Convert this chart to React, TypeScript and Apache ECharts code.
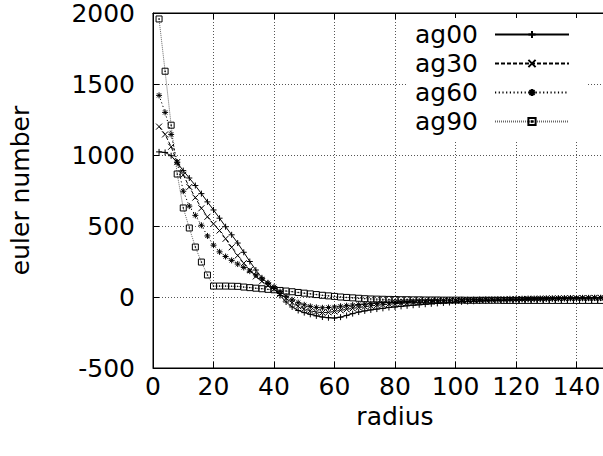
import React, { useEffect, useRef } from "react";
import * as echarts from "echarts";

const radius = [
  2, 4, 6, 8, 10, 12, 14, 16, 18, 20, 22, 24, 26, 28, 30, 32, 34, 36, 38, 40,
  42, 44, 46, 48, 50, 52, 54, 56, 58, 60, 62, 64, 66, 68, 70, 72, 74, 76, 78, 80,
  82, 84, 86, 88, 90, 92, 94, 96, 98, 100, 102, 104, 106, 108, 110, 112, 114, 116, 118, 120,
  122, 124, 126, 128, 130, 132, 134, 136, 138, 140, 142, 144, 146, 148, 150,
];

const ag00 = [
  1022, 1018, 995, 945, 890, 838, 785, 728, 670, 613, 555, 495, 438, 380, 315, 250, 190, 135, 95, 60,
  10, -35, -70, -95, -110, -122, -133, -141, -146, -148, -142, -130, -117, -106, -98, -91, -85, -80, -74, -70,
  -66, -62, -58, -55, -51, -48, -45, -42, -39, -36, -34, -32, -30, -28, -26, -25, -23, -22, -20, -19,
  -18, -17, -16, -15, -14, -13, -12, -11, -10, -9, -9, -8, -7, -7, -6,
];

const ag30 = [
  1200, 1145, 1058, 950, 860, 775, 700, 625, 565, 515, 468, 410, 350, 292, 238, 190, 145, 110, 80, 55,
  22, -10, -40, -65, -84, -97, -106, -110, -108, -102, -94, -87, -80, -74, -68, -63, -58, -54, -50, -47,
  -44, -41, -38, -36, -34, -32, -30, -28, -27, -25, -24, -23, -22, -21, -20, -19, -18, -17, -16, -15,
  -14, -13, -12, -12, -11, -10, -10, -9, -8, -8, -7, -7, -6, -6, -5,
];

const ag60 = [
  1420, 1300, 1145, 950, 745, 640, 575, 505, 430, 365, 318, 285, 258, 232, 208, 182, 155, 128, 100, 72,
  38, 5, -20, -40, -55, -66, -73, -76, -74, -70, -65, -61, -57, -53, -50, -47, -44, -41, -38, -36,
  -34, -32, -30, -28, -27, -25, -24, -23, -22, -21, -20, -19, -18, -17, -16, -16, -15, -14, -13, -13,
  -12, -11, -11, -10, -9, -9, -8, -8, -7, -7, -6, -6, -5, -5, -4,
];

const ag90 = [
  1958, 1590, 1210, 866, 627, 486, 352, 246, 155, 77, 77, 77, 76, 75, 70, 66, 62, 58, 54, 51,
  46, 42, 37, 32, 27, 22, 17, 12, 8, 4, 0, -3, -6, -9, -12, -14, -15, -16, -17, -18,
  -19, -19, -20, -20, -21, -21, -21, -22, -22, -22, -22, -23, -23, -23, -23, -23, -23, -24, -24, -24,
  -24, -24, -24, -24, -24, -24, -24, -24, -24, -24, -24, -24, -24, -24, -24,
];

const seriesNames = ["ag00", "ag30", "ag60", "ag90"];
const xTicks = { min: 0, max: 160, interval: 20 };
const yTicks = { min: -500, max: 2000, interval: 500 };

const FONT = "DejaVu Sans";

const SYM_PLUS = "path://M0,5L10,5M5,0L5,10";
const SYM_CROSS = "path://M0,0L10,10M0,10L10,0";
const SYM_STAR = "path://M0,5L10,5M5,0L5,10M1.5,1.5L8.5,8.5M1.5,8.5L8.5,1.5";
const SYM_BOX = "path://M0,0L10,0L10,10L0,10Z M4.5,4.5L5.5,4.5L5.5,5.5L4.5,5.5Z";

export default function App() {
  const ref = useRef<HTMLDivElement>(null);
  useEffect(() => {
    if (!ref.current) return;
    const chart = echarts.init(ref.current, undefined, { renderer: "svg" });
    const mk = (vals: number[]) => radius.map((r, i) => [r, vals[i]]);
    const sets = [ag00, ag30, ag60, ag90];
    const syms = [SYM_PLUS, SYM_CROSS, SYM_STAR, SYM_BOX];
    const lines: any[] = [
      { color: "#000", width: 1, type: "solid" },
      { color: "#000", width: 1, type: [4, 2] },
      { color: "#000", width: 1, type: [1.2, 2.5] },
      { color: "#666", width: 1, type: [1, 1] },
    ];
    const axisText = { fontFamily: FONT, fontSize: 25, color: "#000" };
    chart.setOption({
      animation: false,
      backgroundColor: "#fff",
      grid: {
        left: 153,
        right: 3,
        top: 13,
        bottom: 88,
        show: true,
        borderColor: "#000",
        borderWidth: 1,
      },
      legend: {
        orient: "vertical",
        right: 52,
        top: 18,
        align: "right",
        itemWidth: 74,
        itemHeight: 9,
        itemGap: 4,
        backgroundColor: "#fff",
        padding: [4, 18, 6, 8],
        textStyle: {
          fontFamily: FONT,
          fontSize: 25,
          color: "#000",
          lineHeight: 24,
          padding: [0, 12, 0, 0],
        },
        data: seriesNames,
      },
      xAxis: [
        {
          type: "value",
          position: "bottom",
          ...xTicks,
          name: "radius",
          nameLocation: "middle",
          nameGap: 31,
          nameTextStyle: axisText,
          axisLine: { show: true, onZero: false, lineStyle: { color: "#000", width: 1 } },
          axisTick: { show: true, inside: true, length: 6, lineStyle: { color: "#000" } },
          axisLabel: {
            ...axisText,
            margin: 6,
            showMaxLabel: false,
            formatter: (v: number) => String(v),
          },
          splitLine: { show: true, lineStyle: { color: "#555", width: 1, type: [1, 2] } },
        },
        {
          type: "value",
          position: "top",
          ...xTicks,
          axisLine: { show: true, onZero: false, lineStyle: { color: "#000", width: 1 } },
          axisTick: { show: true, inside: true, length: 6, lineStyle: { color: "#000" } },
          axisLabel: { show: false },
          splitLine: { show: false },
        },
      ],
      yAxis: {
        type: "value",
        ...yTicks,
        name: "euler number",
        nameLocation: "middle",
        nameRotate: 90,
        nameGap: 120,
        nameTextStyle: axisText,
        axisLine: { show: true, onZero: false, lineStyle: { color: "#000", width: 1 } },
        axisTick: { show: true, inside: true, length: 6, lineStyle: { color: "#000" } },
        axisLabel: { ...axisText, margin: 18, formatter: (v: number) => String(v) },
        splitLine: { show: true, lineStyle: { color: "#555", width: 1, type: [1, 2] } },
      },
      series: seriesNames.map((name, k) => ({
        name,
        type: "line",
        xAxisIndex: 0,
        data: mk(sets[k]),
        symbol: syms[k],
        symbolSize: 6,
        showSymbol: true,
        showAllSymbol: true,
        lineStyle: lines[k],
        itemStyle: { color: "rgba(0,0,0,0)", borderColor: "#000", borderWidth: 1 },
        emphasis: { disabled: true },
        z: 5 - k,
      })),
    });
    return () => chart.dispose();
  }, []);
  return (
    <div
      style={{
        position: "absolute",
        left: 0,
        top: 0,
        width: 603,
        height: 456,
        overflow: "hidden",
        background: "#fff",
      }}
    >
      <div ref={ref} style={{ width: 640, height: 456 }} />
    </div>
  );
}
